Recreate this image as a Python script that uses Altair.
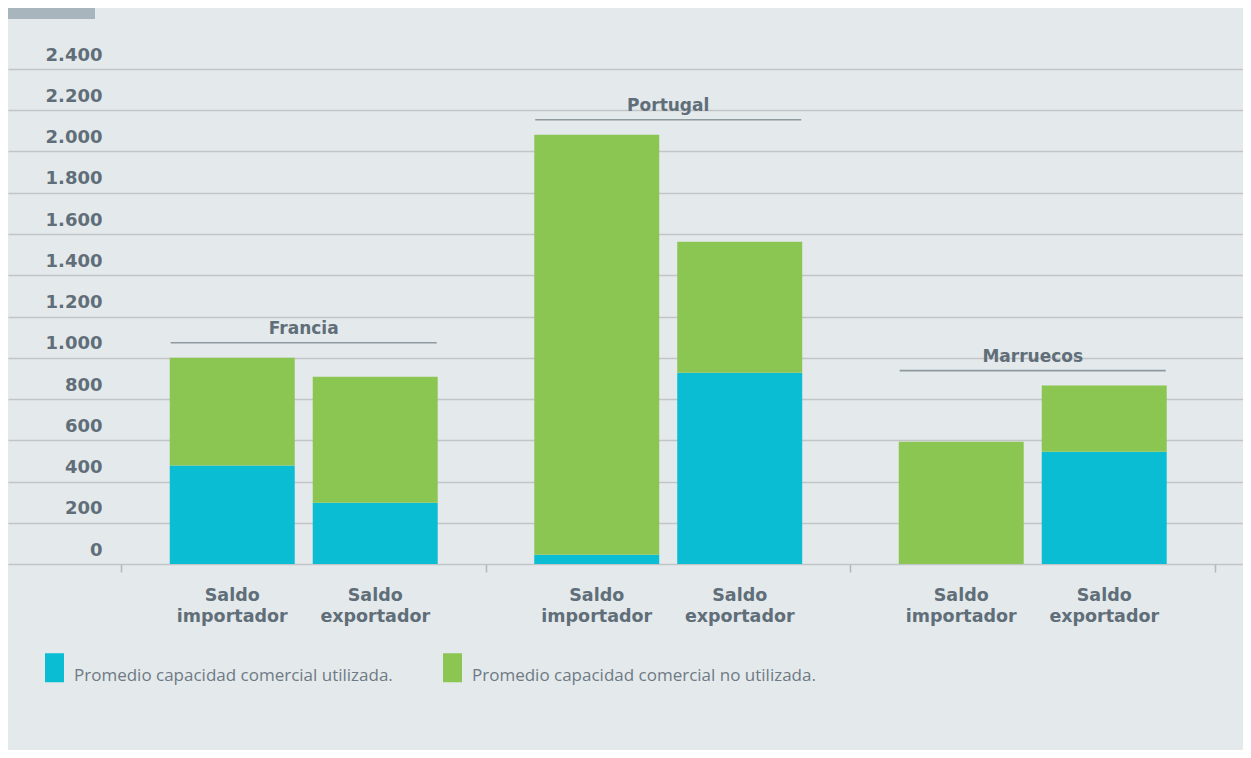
import altair as alt
import pandas as pd

# ---- data ----
grupos = ["Francia", "Francia", "Portugal", "Portugal", "Marruecos", "Marruecos"]
saldos = ["Saldo importador", "Saldo exportador",
          "Saldo importador", "Saldo exportador",
          "Saldo importador", "Saldo exportador"]
utilizada = [478, 297, 45, 927, 0, 544]
no_utilizada = [522, 611, 2036, 635, 593, 321]
series = ["Promedio capacidad comercial utilizada.",
          "Promedio capacidad comercial no utilizada."]
orden_grupos = ["Francia", "Portugal", "Marruecos"]
orden_saldos = ["Saldo importador", "Saldo exportador"]
y_ticks = list(range(0, 2401, 200))

# ---- tables built from the arrays ----
rows = []
for g, s, u, n in zip(grupos, saldos, utilizada, no_utilizada):
    rows.append({"grupo": g, "saldo": s, "serie": series[0], "valor": u, "orden": 0})
    rows.append({"grupo": g, "saldo": s, "serie": series[1], "valor": n, "orden": 1})
bars_df = pd.DataFrame(rows)
labels_df = pd.DataFrame({"grupo": grupos, "saldo": saldos})
totales = [u + n for u, n in zip(utilizada, no_utilizada)]
group_df = (pd.DataFrame({"grupo": grupos, "valor": totales})
            .groupby("grupo", as_index=False).max())

TEXT = "#5f6e78"
BG = "#e4e9ec"

x_enc = alt.X(
    "grupo:N", sort=orden_grupos,
    scale=alt.Scale(paddingInner=0, paddingOuter=0.1941, align=0.802),
    axis=alt.Axis(title=None, labels=False, domain=False, grid=False,
                  ticks=True, tickBand="extent", tickColor="#b3b8bb",
                  tickSize=8, tickWidth=1.5),
)
xo_enc = alt.XOffset(
    "saldo:N", sort=orden_saldos,
    scale=alt.Scale(paddingInner=0.1259, paddingOuter=0.3376),
)


def y_enc(field):
    return alt.Y(
        field, stack="zero",
        scale=alt.Scale(domain=[0, 2400], nice=False, zero=True),
        axis=alt.Axis(
            title=None, values=y_ticks, domain=False, ticks=False, tickSize=0,
            grid=True, gridColor="#c1c5c8", gridWidth=1.5,
            labelExpr="replace(format(datum.value, ','), ',', '.')",
            labelAlign="right", labelPadding=-94, labelBaseline="alphabetic",
            labelOffset=-9, labelFont="DejaVu Sans", labelFontWeight="bold",
            labelFontSize=18, labelColor=TEXT, labelOverlap=False,
        ),
    )


bars = alt.Chart(bars_df).mark_bar().encode(
    x=x_enc,
    xOffset=xo_enc,
    y=y_enc("valor:Q"),
    color=alt.Color(
        "serie:N",
        scale=alt.Scale(domain=series, range=["#0bbdd3", "#8cc652"]),
        legend=alt.Legend(
            title=None, orient="none", direction="horizontal",
            legendX=32, legendY=584, padding=0,
            symbolType="M-0.655,-1H0.655V1H-0.655Z", symbolSize=841,
            symbolStrokeWidth=0, symbolOpacity=1,
            labelFont="Open Sans", labelFontSize=17, labelColor="#6e7a84",
            labelBaseline="top", labelOffset=5, labelLimit=600,
            columnPadding=45,
        ),
    ),
    order=alt.Order("orden:Q"),
)

group_rule = alt.Chart(group_df).mark_tick(
    orient="horizontal", size=266, thickness=1.6, color="#6a7780", yOffset=-15
).encode(x=x_enc, y=y_enc("valor:Q"))

group_text = alt.Chart(group_df).mark_text(
    font="DejaVu Sans", fontWeight="bold", fontSize=17, color=TEXT,
    baseline="alphabetic", align="center", yOffset=-24,
).encode(x=x_enc, y=y_enc("valor:Q"), text="grupo:N")

x_labels = alt.Chart(labels_df).mark_text(
    font="DejaVu Sans", fontWeight="bold", fontSize=17.5, color=TEXT,
    baseline="alphabetic", align="center", lineBreak=" ", lineHeight=21,
).encode(x=x_enc, xOffset=xo_enc, y=alt.value(531.5), text="saldo:N")

deco = alt.Chart(pd.DataFrame({"d": [0]})).mark_rect(color="#a9b5bc").encode(
    x=alt.value(0), x2=alt.value(87), y=alt.value(-61), y2=alt.value(-50)
)

chart = (
    alt.layer(bars, group_rule, group_text, x_labels, deco)
    .properties(
        width=1235, height=495,
        autosize=alt.AutoSizeParams(type="none"),
        padding={"left": 0, "top": 61, "right": 0, "bottom": 186},
    )
    .configure(background=BG)
    .configure_view(strokeWidth=0)
)

chart.save("out.html", embed_options={"renderer": "svg", "actions": False})
